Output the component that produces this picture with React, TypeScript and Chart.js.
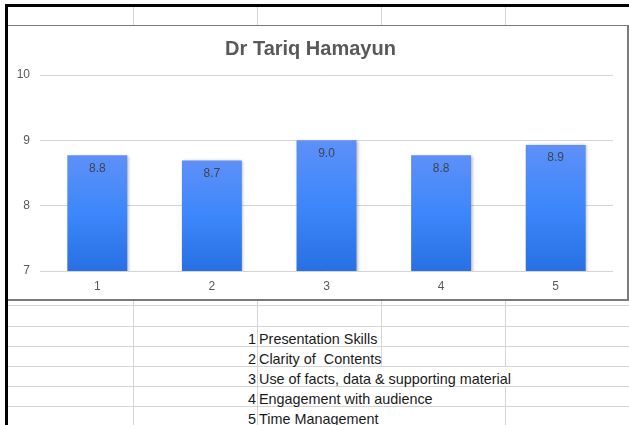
import React, { useEffect, useRef } from "react";
import { Chart, registerables } from "chart.js";

Chart.register(...registerables);

const chartTitle = "Dr Tariq Hamayun";
const categories = ["1", "2", "3", "4", "5"];
const scores = [8.77, 8.69, 9.0, 8.77, 8.93];
const yMin = 7;
const yMax = 10;
const criteriaNumbers = ["1", "2", "3", "4", "5"];
const criteriaNames = [
  "Presentation Skills",
  "Clarity of  Contents",
  "Use of facts, data & supporting material",
  "Engagement with audience",
  "Time Management",
];

const FONT = "'Liberation Sans', Arial, Helvetica, sans-serif";
const GRID = "#d4d4d4";

const barExtras = {
  id: "barExtras",
  beforeDatasetsDraw(chart: any) {
    const c = chart.ctx;
    c.save();
    c.shadowColor = "rgba(0,0,0,0.28)";
    c.shadowBlur = 3;
    c.shadowOffsetX = 1.5;
    c.shadowOffsetY = 0.5;
  },
  afterDatasetsDraw(chart: any) {
    const c = chart.ctx;
    c.restore();
    const meta = chart.getDatasetMeta(0);
    const data = chart.data.datasets[0].data as number[];
    c.save();
    c.font = `12px ${FONT}`;
    c.fillStyle = "#3f4450";
    c.textAlign = "center";
    c.textBaseline = "middle";
    meta.data.forEach((bar: any, i: number) => {
      c.fillText(Number(data[i]).toFixed(1), bar.x, bar.y + 13);
    });
    c.restore();
  },
};

function ChartBox() {
  const ref = useRef<HTMLCanvasElement>(null);
  useEffect(() => {
    if (!ref.current) return;
    const chart = new Chart(ref.current, {
      type: "bar",
      data: {
        labels: categories,
        datasets: [
          {
            data: scores,
            barPercentage: 0.523,
            categoryPercentage: 1,
            borderWidth: 0,
            backgroundColor: (ctx: any) => {
              const ch = ctx.chart;
              const ys = ch.scales?.y;
              if (!ch.chartArea || !ys) return "#3b86fb";
              const top = ys.getPixelForValue(ctx.raw ?? yMax);
              const bottom = ys.getPixelForValue(yMin);
              const g = ch.ctx.createLinearGradient(0, top, 0, bottom);
              g.addColorStop(0, "#5e90f8");
              g.addColorStop(0.5, "#3c87fb");
              g.addColorStop(1, "#2870e3");
              return g;
            },
          },
        ],
      },
      options: {
        animation: false,
        responsive: false,
        maintainAspectRatio: false,
        layout: { padding: { left: 0, right: 14, top: 0, bottom: 0 } },
        plugins: {
          legend: { display: false },
          tooltip: { enabled: false },
          title: {
            display: true,
            text: chartTitle,
            color: "#595959",
            font: { family: FONT, size: 20, weight: "bold", lineHeight: 1.2 },
            padding: { top: 11, bottom: 14 },
          },
        },
        scales: {
          x: {
            grid: { display: false, drawTicks: false },
            border: { display: false },
            ticks: {
              color: "#595959",
              padding: 8,
              font: { family: FONT, size: 12 },
            },
            afterFit: (s: any) => {
              s.height = 27;
            },
          },
          y: {
            min: yMin,
            max: yMax,
            grid: { color: GRID, lineWidth: 1, drawTicks: false },
            border: { display: false },
            ticks: {
              stepSize: 1,
              color: "#595959",
              padding: 10,
              font: { family: FONT, size: 12 },
            },
            afterFit: (s: any) => {
              s.width = 32;
            },
          },
        },
      },
      plugins: [barExtras],
    });
    return () => chart.destroy();
  }, []);
  return (
    <canvas
      ref={ref}
      width={619}
      height={272}
      style={{ position: "absolute", left: 0, top: 0, width: 619, height: 272 }}
    />
  );
}

const colLines = [133, 257, 381, 505];
const rowLines = [305, 326, 346, 366, 386, 406];

export default function App() {
  const abs = (s: React.CSSProperties): React.CSSProperties => ({ position: "absolute", ...s });
  const textRowTops = [326, 346, 366, 386, 406];
  // which column lines are hidden by overflowing text, per text row
  const hidden: number[][] = [[], [], [381, 505], [381], [381]];
  return (
    <div
      style={abs({
        left: 0,
        top: 0,
        width: 629,
        height: 425,
        overflow: "hidden",
        background: "#ffffff",
        fontFamily: FONT,
      })}
    >
      {colLines.map((x) => (
        <div key={"t" + x} style={abs({ left: x, top: 7, width: 1, height: 19, background: GRID })} />
      ))}
      {rowLines.map((y) => (
        <div key={"r" + y} style={abs({ left: 8, top: y, width: 621, height: 1, background: GRID })} />
      ))}
      {colLines.map((x) => (
        <div key={"s" + x} style={abs({ left: x, top: 300, width: 1, height: 26, background: GRID })} />
      ))}
      {textRowTops.map((y, r) =>
        colLines
          .filter((x) => !hidden[r].includes(x))
          .map((x) => (
            <div key={"c" + r + "-" + x} style={abs({ left: x, top: y, width: 1, height: 20, background: GRID })} />
          ))
      )}
      {criteriaNumbers.map((n, i) => (
        <React.Fragment key={"txt" + i}>
          <div
            style={abs({
              left: 133,
              width: 123,
              top: textRowTops[i] + 3,
              lineHeight: "20px",
              fontSize: 14.4,
              color: "#1a1a1a",
              textAlign: "right",
              whiteSpace: "pre",
            })}
          >
            {n}
          </div>
          <div
            style={abs({
              left: 259,
              top: textRowTops[i] + 3,
              lineHeight: "20px",
              fontSize: 14.4,
              color: "#1a1a1a",
              whiteSpace: "pre",
            })}
          >
            {criteriaNames[i]}
          </div>
        </React.Fragment>
      ))}
      <div
        style={abs({
          left: 8,
          top: 25,
          width: 619,
          height: 273,
          borderTop: "1px solid #7a7a7a",
          borderRight: "2px solid #7a7a7a",
          borderBottom: "2px solid #7a7a7a",
          background: "#ffffff",
          boxSizing: "content-box",
        })}
      >
        <div style={abs({ left: 0, top: 0, width: 619, height: 272 })}>
          <ChartBox />
        </div>
      </div>
      <div style={abs({ left: 5, top: 4, width: 624, height: 3, background: "#000" })} />
      <div style={abs({ left: 5, top: 4, width: 3, height: 421, background: "#000" })} />
    </div>
  );
}
